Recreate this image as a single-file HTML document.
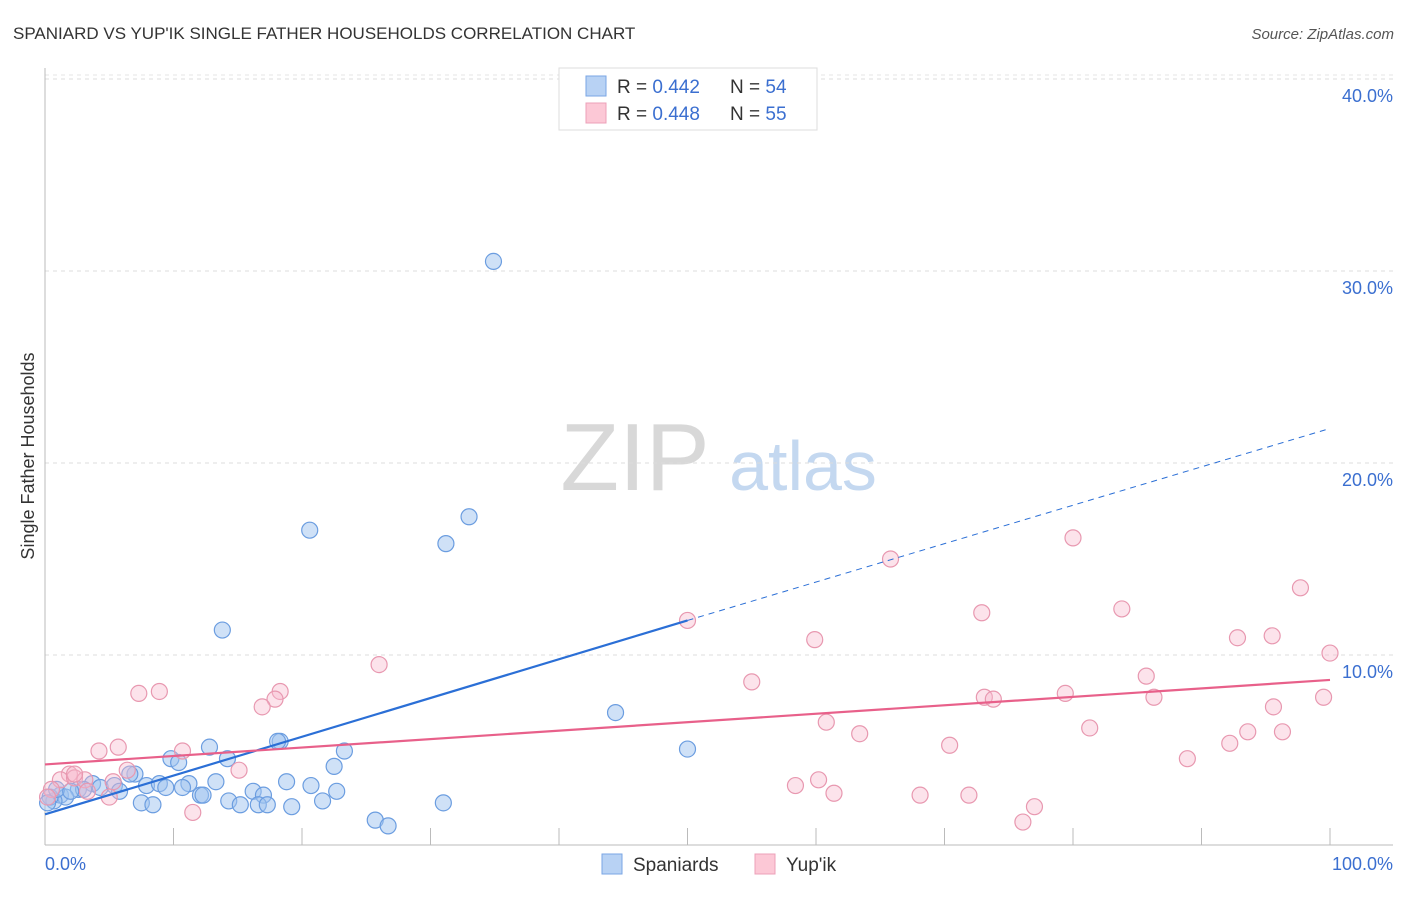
<!DOCTYPE html>
<html><head><meta charset="utf-8"><style>
body{margin:0;background:#fff;font-family:"Liberation Sans",sans-serif;}
svg text{font-family:"Liberation Sans",sans-serif;}
</style></head><body>
<svg id="chart" width="1406" height="892" xmlns="http://www.w3.org/2000/svg">
<text x="13" y="39" font-size="17" fill="#333">SPANIARD VS YUP'IK SINGLE FATHER HOUSEHOLDS CORRELATION CHART</text>
<text x="1394" y="39" font-size="15" fill="#555" text-anchor="end" font-style="italic">Source: ZipAtlas.com</text>
<g>
<text x="635" y="490" font-size="96" fill="#d8d8d8" text-anchor="middle" font-family="Liberation Serif">ZIP</text>
<text x="803" y="490" font-size="70" fill="#c4d8f0" text-anchor="middle">atlas</text>
</g>
<g id="grid"></g>
<line x1="45" y1="68" x2="45" y2="845" stroke="#bbb" stroke-width="1"/>
<line x1="45" y1="845" x2="1393" y2="845" stroke="#bbb" stroke-width="1"/>
<g id="ticks"></g>
<text transform="translate(34,456) rotate(-90)" font-size="18" fill="#333" text-anchor="middle">Single Father Households</text>
<text x="45" y="870" font-size="18" fill="#3b6fd0">0.0%</text>
<text x="1393" y="870" font-size="18" fill="#3b6fd0" text-anchor="end">100.0%</text>
<g id="points"></g>
<g id="trends"></g>
<g>
<rect x="559" y="68" width="258" height="62" fill="#fff" stroke="#ddd"/>
<rect x="586" y="76" width="20" height="20" fill="#b8d2f4" stroke="#7aa6e4"/>
<rect x="586" y="103" width="20" height="20" fill="#fcc8d6" stroke="#eca0b8"/>
<text x="617" y="93" font-size="19" fill="#333">R = <tspan fill="#3b6fd0">0.442</tspan></text>
<text x="730" y="93" font-size="19" fill="#333">N = <tspan fill="#3b6fd0">54</tspan></text>
<text x="617" y="120" font-size="19" fill="#333">R = <tspan fill="#3b6fd0">0.448</tspan></text>
<text x="730" y="120" font-size="19" fill="#333">N = <tspan fill="#3b6fd0">55</tspan></text>
</g>
<g>
<rect x="602" y="854" width="20" height="20" fill="#b8d2f4" stroke="#7aa6e4"/>
<text x="633" y="871" font-size="19" fill="#333">Spaniards</text>
<rect x="755" y="854" width="20" height="20" fill="#fcc8d6" stroke="#eca0b8"/>
<text x="786" y="871" font-size="19" fill="#333">Yup'ik</text>
</g>
</svg>
<script>
const yTicks=[10,20,30,40];
const yTickLabels=["10.0%","20.0%","30.0%","40.0%"];
const xTicks=[0,10,20,30,40,50,60,70,80,90,100];
const spaniardsX=[34.9,33.0,31.2,20.6,13.8,44.4,50.0,18.3,18.1,12.8,9.8,14.2,23.3,22.5,10.4,7.0,6.6,13.3,11.2,18.8,20.7,22.7,7.9,8.9,9.4,10.7,16.2,17.0,12.1,12.3,14.3,15.2,16.6,17.3,19.2,21.6,7.5,8.4,25.7,26.7,31.0,3.7,4.3,5.4,5.8,2.6,3.0,1.2,1.6,0.7,0.4,0.2,0.9,2.0];
const spaniardsY=[30.5,17.2,15.8,16.5,11.3,7.0,5.1,5.5,5.5,5.2,4.6,4.6,5.0,4.2,4.4,3.8,3.8,3.4,3.3,3.4,3.2,2.9,3.2,3.3,3.1,3.1,2.9,2.7,2.7,2.7,2.4,2.2,2.2,2.2,2.1,2.4,2.3,2.2,1.4,1.1,2.3,3.3,3.1,3.2,2.9,3.0,3.0,2.7,2.6,2.4,2.6,2.3,3.0,2.9];
const yupikX=[80.0,65.8,97.7,83.8,72.9,50.0,95.5,92.8,59.9,100,26.0,55.0,85.7,18.3,8.9,7.3,17.9,16.9,73.1,73.8,79.4,86.3,99.5,95.6,60.8,81.3,63.4,93.6,96.3,92.2,70.4,5.7,4.2,10.7,88.9,15.1,6.4,60.2,58.4,61.4,68.1,71.9,77.0,76.1,11.5,1.9,1.2,2.3,3.1,5.3,3.3,5.0,0.5,0.2,2.3];
const yupikY=[16.1,15.0,13.5,12.4,12.2,11.8,11.0,10.9,10.8,10.1,9.5,8.6,8.9,8.1,8.1,8.0,7.7,7.3,7.8,7.7,8.0,7.8,7.8,7.3,6.5,6.2,5.9,6.0,6.0,5.4,5.3,5.2,5.0,5.0,4.6,4.0,4.0,3.5,3.2,2.8,2.7,2.7,2.1,1.3,1.8,3.8,3.5,3.6,3.5,3.4,2.9,2.6,3.0,2.6,3.8];
const spaniardsTrend=[1.7,11.8,21.8];
const yupikTrend=[4.3,8.7];
const NS="http://www.w3.org/2000/svg";
const xS=v=>45+12.85*v, yS=v=>847-19.2*v;
function mk(tag,attrs,parent){const e=document.createElementNS(NS,tag);for(const k in attrs)e.setAttribute(k,attrs[k]);document.getElementById(parent).appendChild(e);return e;}
yTicks.forEach((t,i)=>{
 const g=mk('line',{x1:45,x2:1393,y1:yS(t),y2:yS(t),stroke:'#ddd','stroke-dasharray':'4,4'},'grid');
 
 
 const l=mk('text',{x:1393,y:yS(t)+23,'font-size':18,fill:'#3b6fd0','text-anchor':'end'},'ticks');
 l.textContent=yTickLabels[i];
 
 
});
const topGrid=mk('line',{x1:45,x2:1393,y1:75,y2:75,stroke:'#e4e4e4','stroke-dasharray':'4,4'},'grid');


xTicks.forEach(t=>{
 const e=mk('line',{x1:xS(t),x2:xS(t),y1:828,y2:845,stroke:'#bbb'},'ticks');
 
 
});
spaniardsX.forEach((x,i)=>{
 const c=mk('circle',{cx:xS(x),cy:yS(spaniardsY[i]),r:8,fill:'rgba(160,196,240,0.5)',stroke:'#6b9de0','stroke-width':1.2},'points');
 
 
});
yupikX.forEach((x,i)=>{
 const c=mk('circle',{cx:xS(x),cy:yS(yupikY[i]),r:8,fill:'rgba(248,185,205,0.4)',stroke:'#e898b0','stroke-width':1.2},'points');
 
 
});
const b1=mk('line',{x1:xS(0),y1:yS(spaniardsTrend[0]),x2:xS(50),y2:yS(spaniardsTrend[1]),stroke:'#2b6fd6','stroke-width':2.2},'trends');


const b2=mk('line',{x1:xS(50),y1:yS(spaniardsTrend[1]),x2:xS(100),y2:yS(spaniardsTrend[2]),stroke:'#2b6fd6','stroke-width':1,'stroke-dasharray':'6,5'},'trends');


const p1=mk('line',{x1:xS(0),y1:yS(yupikTrend[0]),x2:xS(100),y2:yS(yupikTrend[1]),stroke:'#e8608a','stroke-width':2.2},'trends');


</script>
</body></html>
